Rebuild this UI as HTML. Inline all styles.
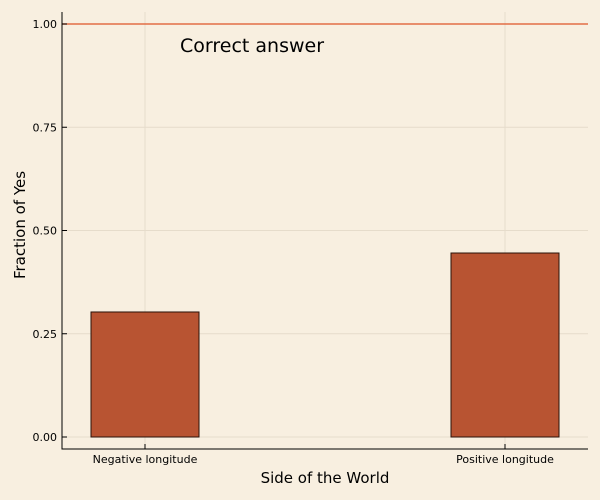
<!DOCTYPE html>
<html><head><meta charset="utf-8"><style>
html,body{margin:0;padding:0;background:#f8efe0;}
svg{display:block;font-family:"DejaVu Sans","Liberation Sans",sans-serif;}
</style></head><body>
<svg id="chart" width="600" height="500" xmlns="http://www.w3.org/2000/svg">
<rect width="600" height="500" fill="#f8efe0"/>
<g id="grid"></g>
<g id="bars"></g>
<line x1="62" y1="24" x2="588" y2="24" stroke="#e26f46" stroke-width="1.5"/>
<text x="180" y="52" font-size="19" fill="#000">Correct answer</text>
<g id="axes"></g>
<text x="325" y="483" font-size="15" text-anchor="middle">Side of the World</text>
<text transform="translate(25,225) rotate(-90)" font-size="15" text-anchor="middle">Fraction of Yes</text>
</svg>
<script>
const categories = ["Negative longitude", "Positive longitude"];
const values = [0.3027, 0.4455];
const yTicks = [0, 0.25, 0.5, 0.75, 1.0];
const yTickLabels = ["0.00", "0.25", "0.50", "0.75", "1.00"];

const NS = "http://www.w3.org/2000/svg";
const L = 62, R = 588, T = 12, B = 449;
const y = v => 437 - v * 413;
const x = i => 145 + i * 360;
const bw = 108;
function mk(tag, attrs, parent) {
  const e = document.createElementNS(NS, tag);
  for (const k in attrs) e.setAttribute(k, attrs[k]);
  document.getElementById(parent).appendChild(e);
  return e;
}
yTicks.forEach((t, i) => {
  const g = mk("line", {x1: L, x2: R, y1: y(t), y2: y(t), stroke: "#e6dccb", "stroke-width": 1}, "grid");
  
  
  const tk = mk("line", {x1: L, x2: L + 5, y1: y(t), y2: y(t), stroke: "#000"}, "axes");
  
  
  const lb = mk("text", {x: L - 5, y: y(t) + 4, "font-size": 11, "text-anchor": "end"}, "axes");
  lb.textContent = yTickLabels[i];
  
  
});
categories.forEach((c, i) => {
  const g = mk("line", {x1: x(i), x2: x(i), y1: T, y2: B, stroke: "#e6dccb", "stroke-width": 1}, "grid");
  
  
  const b = mk("rect", {x: x(i) - bw / 2, y: y(values[i]), width: bw, height: y(0) - y(values[i]), fill: "#b85432", stroke: "#2a1208", "stroke-width": 1}, "bars");
  
  
  const tk = mk("line", {x1: x(i), x2: x(i), y1: B, y2: B - 5, stroke: "#000"}, "axes");
  
  
  const lb = mk("text", {x: x(i), y: B + 14, "font-size": 11, "text-anchor": "middle"}, "axes");
  lb.textContent = c;
  
  
});
const ax = mk("path", {d: `M${L},${T} V${B} H${R}`, fill: "none", stroke: "#000", "stroke-width": 1}, "axes");


</script>
</body></html>
